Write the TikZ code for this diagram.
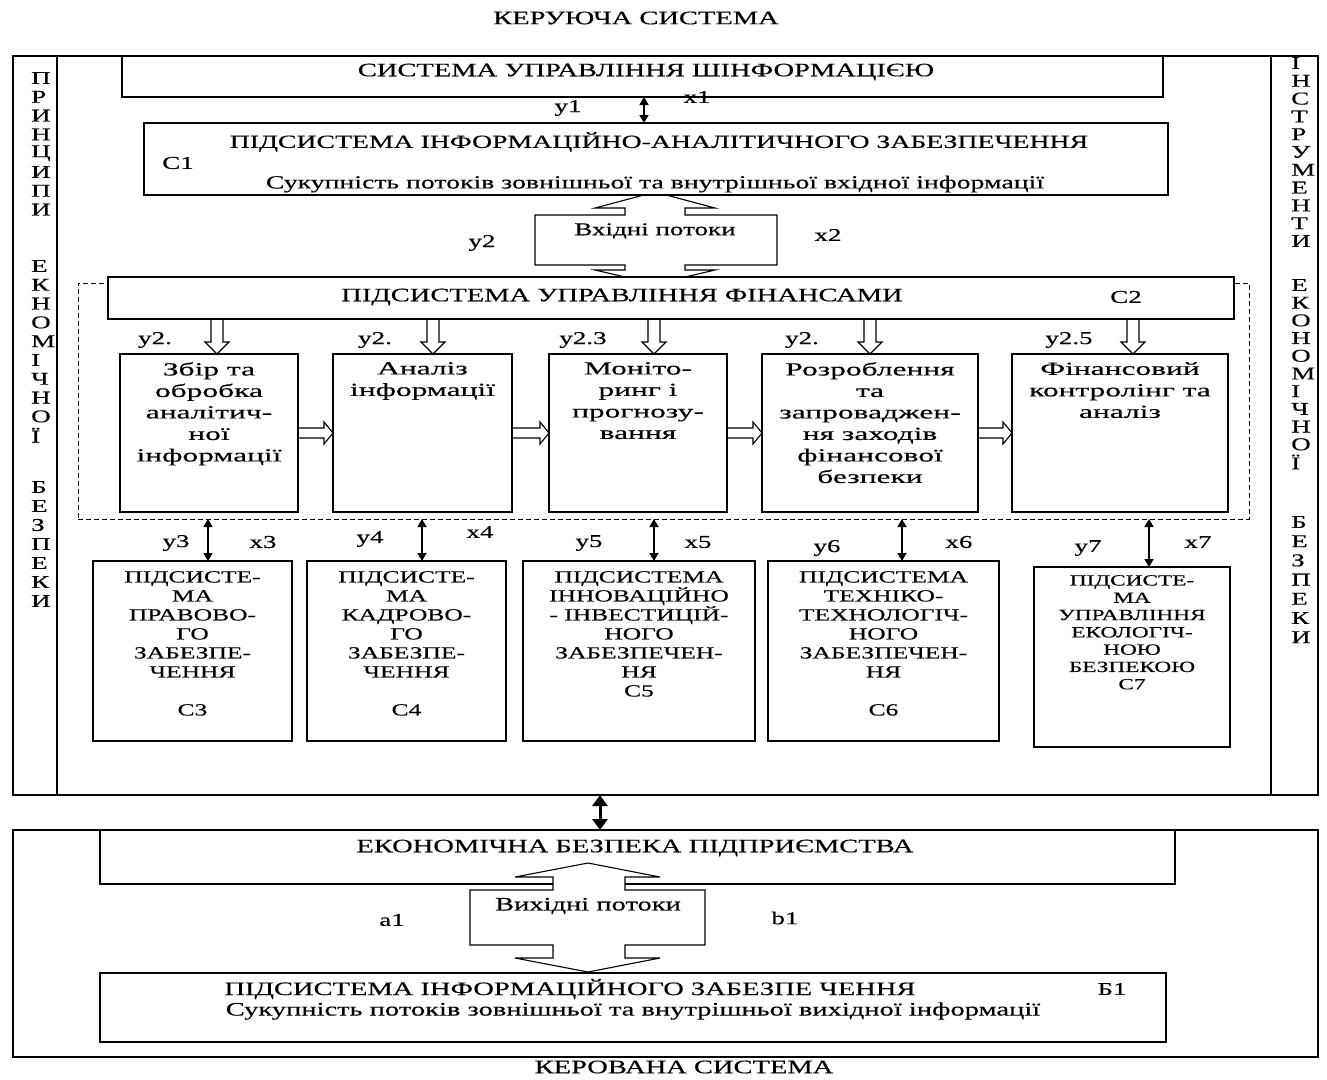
\documentclass[tikz,border=0pt]{standalone}
\usepackage{fontspec}
\setmainfont{Liberation Serif}[FakeStretch=1.5,FakeBold=0.4]
\newfontfamily\wideserif{Liberation Serif}[FakeStretch=1.7,FakeBold=0.4]
\usetikzlibrary{arrows.meta}
\tikzset{
  frm/.style={draw,line width=1.4pt,inner sep=0pt,outer sep=0pt,fill=white},
  dzone/.style={draw,line width=1pt,dash pattern=on 5pt off 3pt,inner sep=0pt,outer sep=0pt},
  big/.style={font=\fontsize{19}{22}\selectfont,inner sep=0pt},
  mid/.style={font=\wideserif\fontsize{18.5}{21.5}\selectfont,inner sep=0pt,align=center,anchor=north},
  sub/.style={font=\fontsize{17}{19}\selectfont,inner sep=0pt,align=center,anchor=north},
  subs/.style={font=\fontsize{15.5}{17.3}\selectfont,inner sep=0pt,align=center,anchor=north},
  vl/.style={font=\fontsize{18}{20}\selectfont,inner sep=0pt,anchor=west},
  lbl/.style={font=\fontsize{18}{20}\selectfont,inner sep=0pt},
  dbl/.style={line width=1.4pt,{Triangle[length=8pt,width=9pt]}-{Triangle[length=8pt,width=9pt]}},
  bigdbl/.style={line width=3pt,{Triangle[length=11pt,width=15pt]}-{Triangle[length=11pt,width=15pt]}},
  hol/.style={draw,line width=1.1pt,fill=white,line join=miter},
  hl/.style={line width=1.1pt,line join=miter},
  ln/.style={line width=1.4pt},
}
\newcommand{\bx}[6][]{\node[frm,minimum width=#4pt-#2pt,minimum height=#5pt-#3pt,#1] (#6) at ({(#2+#4)/2},{(#3+#5)/2}) {};}
\begin{document}
\begin{tikzpicture}[x=1pt,y=-1pt]
\useasboundingbox[fill=white] (0,0) rectangle (1327,1079);
\node[big] (kerl) at (636,18) {КЕРУЮЧА СИСТЕМА};
% upper frame
\bx{13}{56}{1318}{795}{uf}
\draw[ln] (57,56) -- (57,795);
\draw[ln] (1271,56) -- (1271,795);
% dashed zone
\node[dzone,minimum width=1171pt,minimum height=236pt] (dz) at (663.5,401) {};
% input flows arrow
\draw[hol] (655,192) -- (715,208) -- (685,208) -- (685,215) -- (777,215) -- (777,265) -- (685,265) -- (685,270) -- (715,270) -- (655,284) -- (595,270) -- (625,270) -- (625,265) -- (535,265) -- (535,215) -- (625,215) -- (625,208) -- (595,208) -- cycle;
% boxes
\bx{122}{56}{1163}{97}{sys}
\bx{144}{123}{1168}{195}{c1}
\bx{108}{277}{1234}{319}{c2}
\bx{120}{354}{298}{512}{p1}
\bx{333}{354}{512}{512}{p2}
\bx{549}{354}{727}{512}{p3}
\bx{762}{354}{978}{512}{p4}
\bx{1012}{354}{1228}{512}{p5}
\bx{93}{561}{292}{741}{c3}
\bx{307}{561}{506}{741}{c4}
\bx{523}{561}{755}{741}{c5}
\bx{768}{561}{999}{741}{c6}
\bx{1034}{567}{1230}{747}{c7}
% connectors
\coordinate (ax1) at (644,0);
\draw[dbl] (sys.south -| ax1) -- (c1.north -| ax1);
\foreach \n/\x in {c3/208,c4/422,c5/654,c6/902,c7/1149}{
  \coordinate (ax\n) at (\x,0);
  \draw[dbl] (dz.south -| ax\n) -- (\n.north -| ax\n);
}
\foreach \x in {217,433,654,870,1133}
  \draw[hl] (\x-6,319) -- (\x-6,342) -- (\x-12,342) -- (\x,354) -- (\x+12,342) -- (\x+6,342) -- (\x+6,319);
\foreach \a/\b in {298/333,512/549,727/762,978/1012}
  \draw[hl] (\a,428) -- (\b-9,428) -- (\b-9,422) -- (\b,433) -- (\b-9,444) -- (\b-9,438) -- (\a,438);
% texts upper
\node[big] (tsys) at (646,72) {СИСТЕМА УПРАВЛІННЯ ШІНФОРМАЦІЄЮ};
\node[lbl] (ly1) at (568,108) {y1};
\node[lbl] (lx1) at (697,97) {x1};
\node[big,font=\fontsize{18.5}{21}\selectfont] (tc1) at (659,142) {ПІДСИСТЕМА ІНФОРМАЦІЙНО-АНАЛІТИЧНОГО ЗАБЕЗПЕЧЕННЯ};
\node[lbl] (lc1) at (178,163) {С1};
\node[big,font=\fontsize{18.5}{21}\selectfont] (sc1) at (655,184) {Сукупність потоків зовнішньої та внутрішньої вхідної інформації};
\node[lbl] (tin) at (655,231) {Вхідні потоки};
\node[lbl] (ly2) at (482,243) {y2};
\node[lbl] (lx2) at (828,235) {x2};
\node[big] (tc2) at (622,297) {ПІДСИСТЕМА УПРАВЛІННЯ ФІНАНСАМИ};
\node[lbl] (lc2) at (1126,297) {С2};
\node[lbl] (l21) at (155,340) {y2.};
\node[lbl] (l22) at (375,340) {y2.};
\node[lbl] (l23) at (583,340) {y2.3};
\node[lbl] (l24) at (802,340) {y2.};
\node[lbl] (l25) at (1069,340) {y2.5};
\node[mid] (tp1) at (p1.north |- 0,362) {Збір та\\обробка\\аналітич-\\ної\\інформації};
\node[mid] (tp2) at (p2.north |- 0,362) {Аналіз\\інформації};
\node[mid] (tp3) at (p3.north |- 0,362) {Моніто-\\ринг і\\прогнозу-\\вання};
\node[mid] (tp4) at (p4.north |- 0,362) {Розроблення\\та\\запроваджен-\\ня заходів\\фінансової\\безпеки};
\node[mid] (tp5) at (p5.north |- 0,362) {Фінансовий\\контролінг та\\аналіз};
% lower row labels
\node[lbl] (ly3) at (176,543) {y3};
\node[lbl] (lx3) at (263,542) {x3};
\node[lbl] (ly4) at (370,539) {y4};
\node[lbl] (lx4) at (480,532) {x4};
\node[lbl] (ly5) at (589,543) {y5};
\node[lbl] (lx5) at (698,542) {x5};
\node[lbl] (ly6) at (827,548) {y6};
\node[lbl] (lx6) at (959,542) {x6};
\node[lbl] (ly7) at (1088,548) {y7};
\node[lbl] (lx7) at (1198,542) {x7};
\node[sub] (tc3) at (c3.north |- 0,571) {ПІДСИСТЕ-\\МА\\ПРАВОВО-\\ГО\\ЗАБЕЗПЕ-\\ЧЕННЯ\\[19pt]С3};
\node[sub] (tc4) at (c4.north |- 0,571) {ПІДСИСТЕ-\\МА\\КАДРОВО-\\ГО\\ЗАБЕЗПЕ-\\ЧЕННЯ\\[19pt]С4};
\node[sub] (tc5) at (c5.north |- 0,571) {ПІДСИСТЕМА\\ІННОВАЦІЙНО\\- ІНВЕСТИЦІЙ-\\НОГО\\ЗАБЕЗПЕЧЕН-\\НЯ\\С5};
\node[sub] (tc6) at (c6.north |- 0,571) {ПІДСИСТЕМА\\ТЕХНІКО-\\ТЕХНОЛОГІЧ-\\НОГО\\ЗАБЕЗПЕЧЕН-\\НЯ\\[19pt]С6};
\node[subs] (tc7) at (c7.north |- 0,575) {ПІДСИСТЕ-\\МА\\УПРАВЛІННЯ\\ЕКОЛОГІЧ-\\НОЮ\\БЕЗПЕКОЮ\\С7};
% side texts
\foreach \c [count=\i] in {П,Р,И,Н,Ц,И,П,И} \node[vl] (lwa\i) at (31,{78+(\i-1)*18.8}) {\c};
\foreach \c [count=\i] in {Е,К,Н,О,М,І,Ч,Н,О,Ї} \node[vl] (lwb\i) at (31,{266+(\i-1)*18.8}) {\c};
\foreach \c [count=\i] in {Б,Е,З,П,Е,К,И} \node[vl] (lwc\i) at (31,{487+(\i-1)*19}) {\c};
\foreach \c [count=\i] in {І,Н,С,Т,Р,У,М,Е,Н,Т,И} \node[vl] (rwa\i) at (1291,{63+(\i-1)*17.8}) {\c};
\foreach \c [count=\i] in {Е,К,О,Н,О,М,І,Ч,Н,О,Ї} \node[vl] (rwb\i) at (1291,{285+(\i-1)*17.7}) {\c};
\foreach \c [count=\i] in {Б,Е,З,П,Е,К,И} \node[vl] (rwc\i) at (1291,{522+(\i-1)*19.2}) {\c};
% lower frame
\bx{13}{830}{1318}{1057}{lf}
\bx{100}{830}{1175}{884}{eb}
\coordinate (amid) at (600,0);
\draw[bigdbl] (uf.south -| amid) -- (lf.north -| amid);
\draw[hol] (588,863) -- (660,877) -- (625,877) -- (625,890) -- (705,890) -- (705,945) -- (625,945) -- (625,958) -- (660,958) -- (588,972) -- (515,958) -- (553,958) -- (553,945) -- (470,945) -- (470,890) -- (553,890) -- (553,877) -- (515,877) -- cycle;
\bx{100}{973}{1166}{1042}{b1}
\node[big] (teb) at (635,848) {ЕКОНОМІЧНА БЕЗПЕКА ПІДПРИЄМСТВА};
\node[big] (tout) at (588,906) {Вихідні потоки};
\node[lbl] (la1) at (392,920) {a1};
\node[lbl] (lb1) at (785,918) {b1};
\node[big] (tb1) at (570,989) {ПІДСИСТЕМА ІНФОРМАЦІЙНОГО ЗАБЕЗПЕ ЧЕННЯ};
\node[lbl] (lb1n) at (1112,989) {Б1};
\node[big] (sb1) at (633,1011) {Сукупність потоків зовнішньої та внутрішньої вихідної інформації};
\node[big] (kerov) at (684,1067) {КЕРОВАНА СИСТЕМА};
\end{tikzpicture}
\end{document}
